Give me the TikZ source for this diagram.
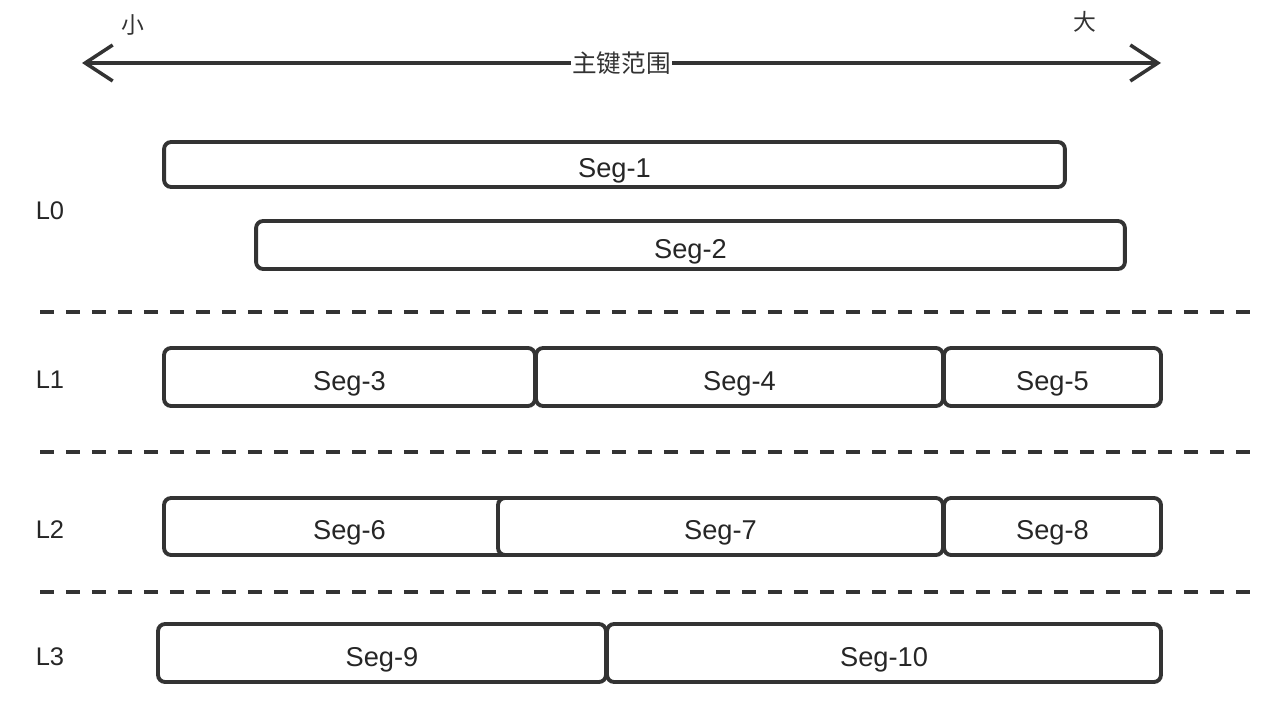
\documentclass[tikz,border=0pt]{standalone}
\usepackage{fontspec}
\setmainfont{Liberation Sans}
\newfontfamily\cjk{Noto Sans CJK SC}
\usepackage{tikz}
\usetikzlibrary{arrows.meta, positioning}
\definecolor{linegray}{HTML}{333333}

\begin{document}
\begin{tikzpicture}[
  x=0.02cm, y=-0.02cm,
  seg/.style={draw=linegray, line width=2.2pt, rounded corners=4pt, fill=white, inner sep=0pt, font=\fontsize{15.5}{18}\selectfont, text height=15pt, text depth=0pt, text=black!85},
  level/.style={font=\fontsize{14.5}{17}\selectfont, text=black!85},
  sep/.style={draw=linegray, line width=2.2pt, dash pattern=on 0.28cm off 0.24cm},
  axis/.style={draw=linegray, line width=2pt, {Straight Barb[length=5.5mm, width=7.2mm]}-{Straight Barb[length=5.5mm, width=7.2mm]}}
]
  \useasboundingbox (0,0) rectangle (1272,726);

  % key range axis
  \coordinate (lo) at (82,63);
  \coordinate (hi) at (1161,63);
  \draw[axis] (lo) -- node[midway, fill=white, inner sep=1pt, font=\cjk\fontsize{14}{16}\selectfont, text=black!80] (range) {主键范围} (hi);
  \node[font=\cjk\fontsize{13}{15}\selectfont, text=black!80] (small) at (133,25) {小};
  \node[font=\cjk\fontsize{13}{15}\selectfont, text=black!80] (big) at (1085,22) {大};

  % level labels
  \node[level] (l0) at (50,211) {L0};
  \node[level] (l1) at (50,380) {L1};
  \node[level] (l2) at (50,530) {L2};
  \node[level] (l3) at (50,657) {L3};

  % level separators
  \coordinate (s1a) at (40,312);  \coordinate (s1b) at (1252,312);
  \coordinate (s2a) at (40,452);  \coordinate (s2b) at (1252,452);
  \coordinate (s3a) at (40,592);  \coordinate (s3b) at (1252,592);
  \draw[sep] (s1a) -- (s1b);
  \draw[sep] (s2a) -- (s2b);
  \draw[sep] (s3a) -- (s3b);

  % L0
  \node[seg, minimum width=18.02cm, minimum height=0.9cm] (seg1) at (614.5,164.5) {Seg-1};
  \node[seg, minimum width=17.38cm, minimum height=0.96cm] (seg2) at (690.5,245) {Seg-2};

  % L1
  \node[seg, minimum width=7.42cm, minimum height=1.16cm] (seg3) at (349.5,377) {Seg-3};
  \node[seg, minimum width=8.14cm, minimum height=1.16cm] (seg4) at (739.5,377) {Seg-4};
  \node[seg, minimum width=4.34cm, minimum height=1.16cm] (seg5) at (1052.5,377) {Seg-5};

  % L2
  \node[seg, minimum width=7.42cm, minimum height=1.14cm] (seg6) at (349.5,526.5) {Seg-6};
  \node[seg, minimum width=8.9cm, minimum height=1.14cm] (seg7) at (720.5,526.5) {Seg-7};
  \node[seg, minimum width=4.34cm, minimum height=1.14cm] (seg8) at (1052.5,526.5) {Seg-8};

  % L3
  \node[seg, minimum width=8.96cm, minimum height=1.16cm] (seg9) at (382,653) {Seg-9};
  \node[seg, minimum width=11.08cm, minimum height=1.16cm] (seg10) at (884,653) {Seg-10};
\end{tikzpicture}
\end{document}
